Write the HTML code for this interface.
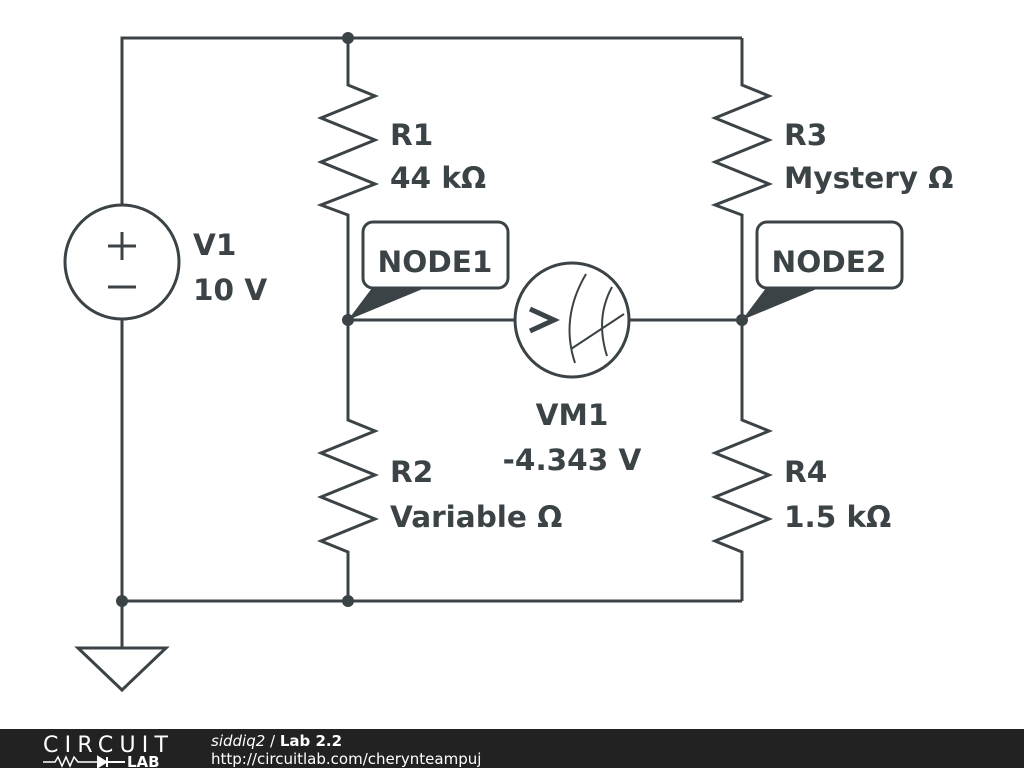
<!DOCTYPE html>
<html><head><meta charset="utf-8"><style>
body{margin:0;width:1024px;height:768px;background:#fff;overflow:hidden;font-family:"Liberation Sans",sans-serif}
.lbl text{font-family:"DejaVu Sans",sans-serif;font-weight:bold;fill:#3b4347}
.ft text{fill:#fff}
</style></head><body>
<svg width="1024" height="768" viewBox="0 0 1024 768" xmlns="http://www.w3.org/2000/svg">
<g stroke="#3b4347" stroke-width="3" fill="none" stroke-linejoin="miter">
<path d="M122 205 V38 H742"/>
<path d="M122 320 V648"/>
<path d="M122 601 H742"/>
<path d="M78 648 H166 L122 690 Z"/>
<circle cx="122" cy="262" r="57"/>
<path d="M108 246 H136 M122 232 V260 M108 287 H136"/>
<path d="M348 38 V85 L375 96 L321 118 L375 140 L321 162 L375 184 L321 205 L348 215 V420 L375 431 L321 453 L375 475 L321 497 L375 519 L321 541 L348 552 V601"/>
<path d="M742 38 V85 L769 96 L715 118 L769 140 L715 162 L769 184 L715 205 L742 215 V420 L769 431 L715 453 L769 475 L715 497 L769 519 L715 541 L742 552 V601"/>
<path d="M348 320 H515 M629 320 H742"/>
<circle cx="572" cy="320" r="57"/>
<path d="M530 309 L554 320 L530 331" stroke-width="5"/>
<path d="M586 274 Q560 318 575 363 M612 287 Q595 318 607 356 M571 349 L624 314" stroke-width="2"/>
<rect x="363" y="222" width="145" height="66" rx="10"/>
<rect x="757" y="222" width="145" height="66" rx="10"/>
</g>
<g fill="#3b4347">
<circle cx="348" cy="38" r="6"/><circle cx="348" cy="320" r="6"/><circle cx="742" cy="320" r="6"/>
<circle cx="122" cy="601" r="6"/><circle cx="348" cy="601" r="6"/>
<path d="M348 320 L372 288 L425 288 Z"/>
<path d="M742 320 L766 288 L819 288 Z"/>
</g>
<g class="lbl" font-size="29.5">
<text x="390" y="145">R1</text><text x="390" y="188">44 kΩ</text>
<text x="784" y="145">R3</text><text x="784" y="188">Mystery Ω</text>
<text x="193" y="255">V1</text><text x="193" y="300">10 V</text>
<text x="390" y="482">R2</text><text x="390" y="527">Variable Ω</text>
<text x="784" y="482">R4</text><text x="784" y="527">1.5 kΩ</text>
<text x="572" y="425" text-anchor="middle">VM1</text><text x="572" y="470" text-anchor="middle">-4.343 V</text>
<text x="435" y="272" text-anchor="middle">NODE1</text><text x="829" y="272" text-anchor="middle">NODE2</text>
</g>
<rect x="0" y="729" width="1024" height="39" fill="#222"/>
<g class="ft">
<text x="43" y="752" font-family="'DejaVu Sans',sans-serif" font-size="22" textLength="125">CIRCUIT</text>
<text x="127" y="767" font-size="15" font-weight="bold" font-family="'DejaVu Sans',sans-serif">LAB</text>
<text x="211" y="746" font-size="15" font-family="'DejaVu Sans',sans-serif"><tspan font-style="italic">siddiq2</tspan> / <tspan font-weight="bold">Lab 2.2</tspan></text>
<text x="211" y="764" font-size="15" font-family="'DejaVu Sans',sans-serif">http://circuitlab.com/cherynteampuj</text>
</g>
<path d="M43 762 H55 L58 757 L62 766 L66 757 L70 766 L74 757 L78 762 H98" stroke="#fff" stroke-width="1.5" fill="none"/>
<path d="M98 757 L106 762 L98 767 Z M107 757 V767 M107 762 H125" stroke="#fff" stroke-width="2" fill="#fff"/>
</svg>
</body></html>
